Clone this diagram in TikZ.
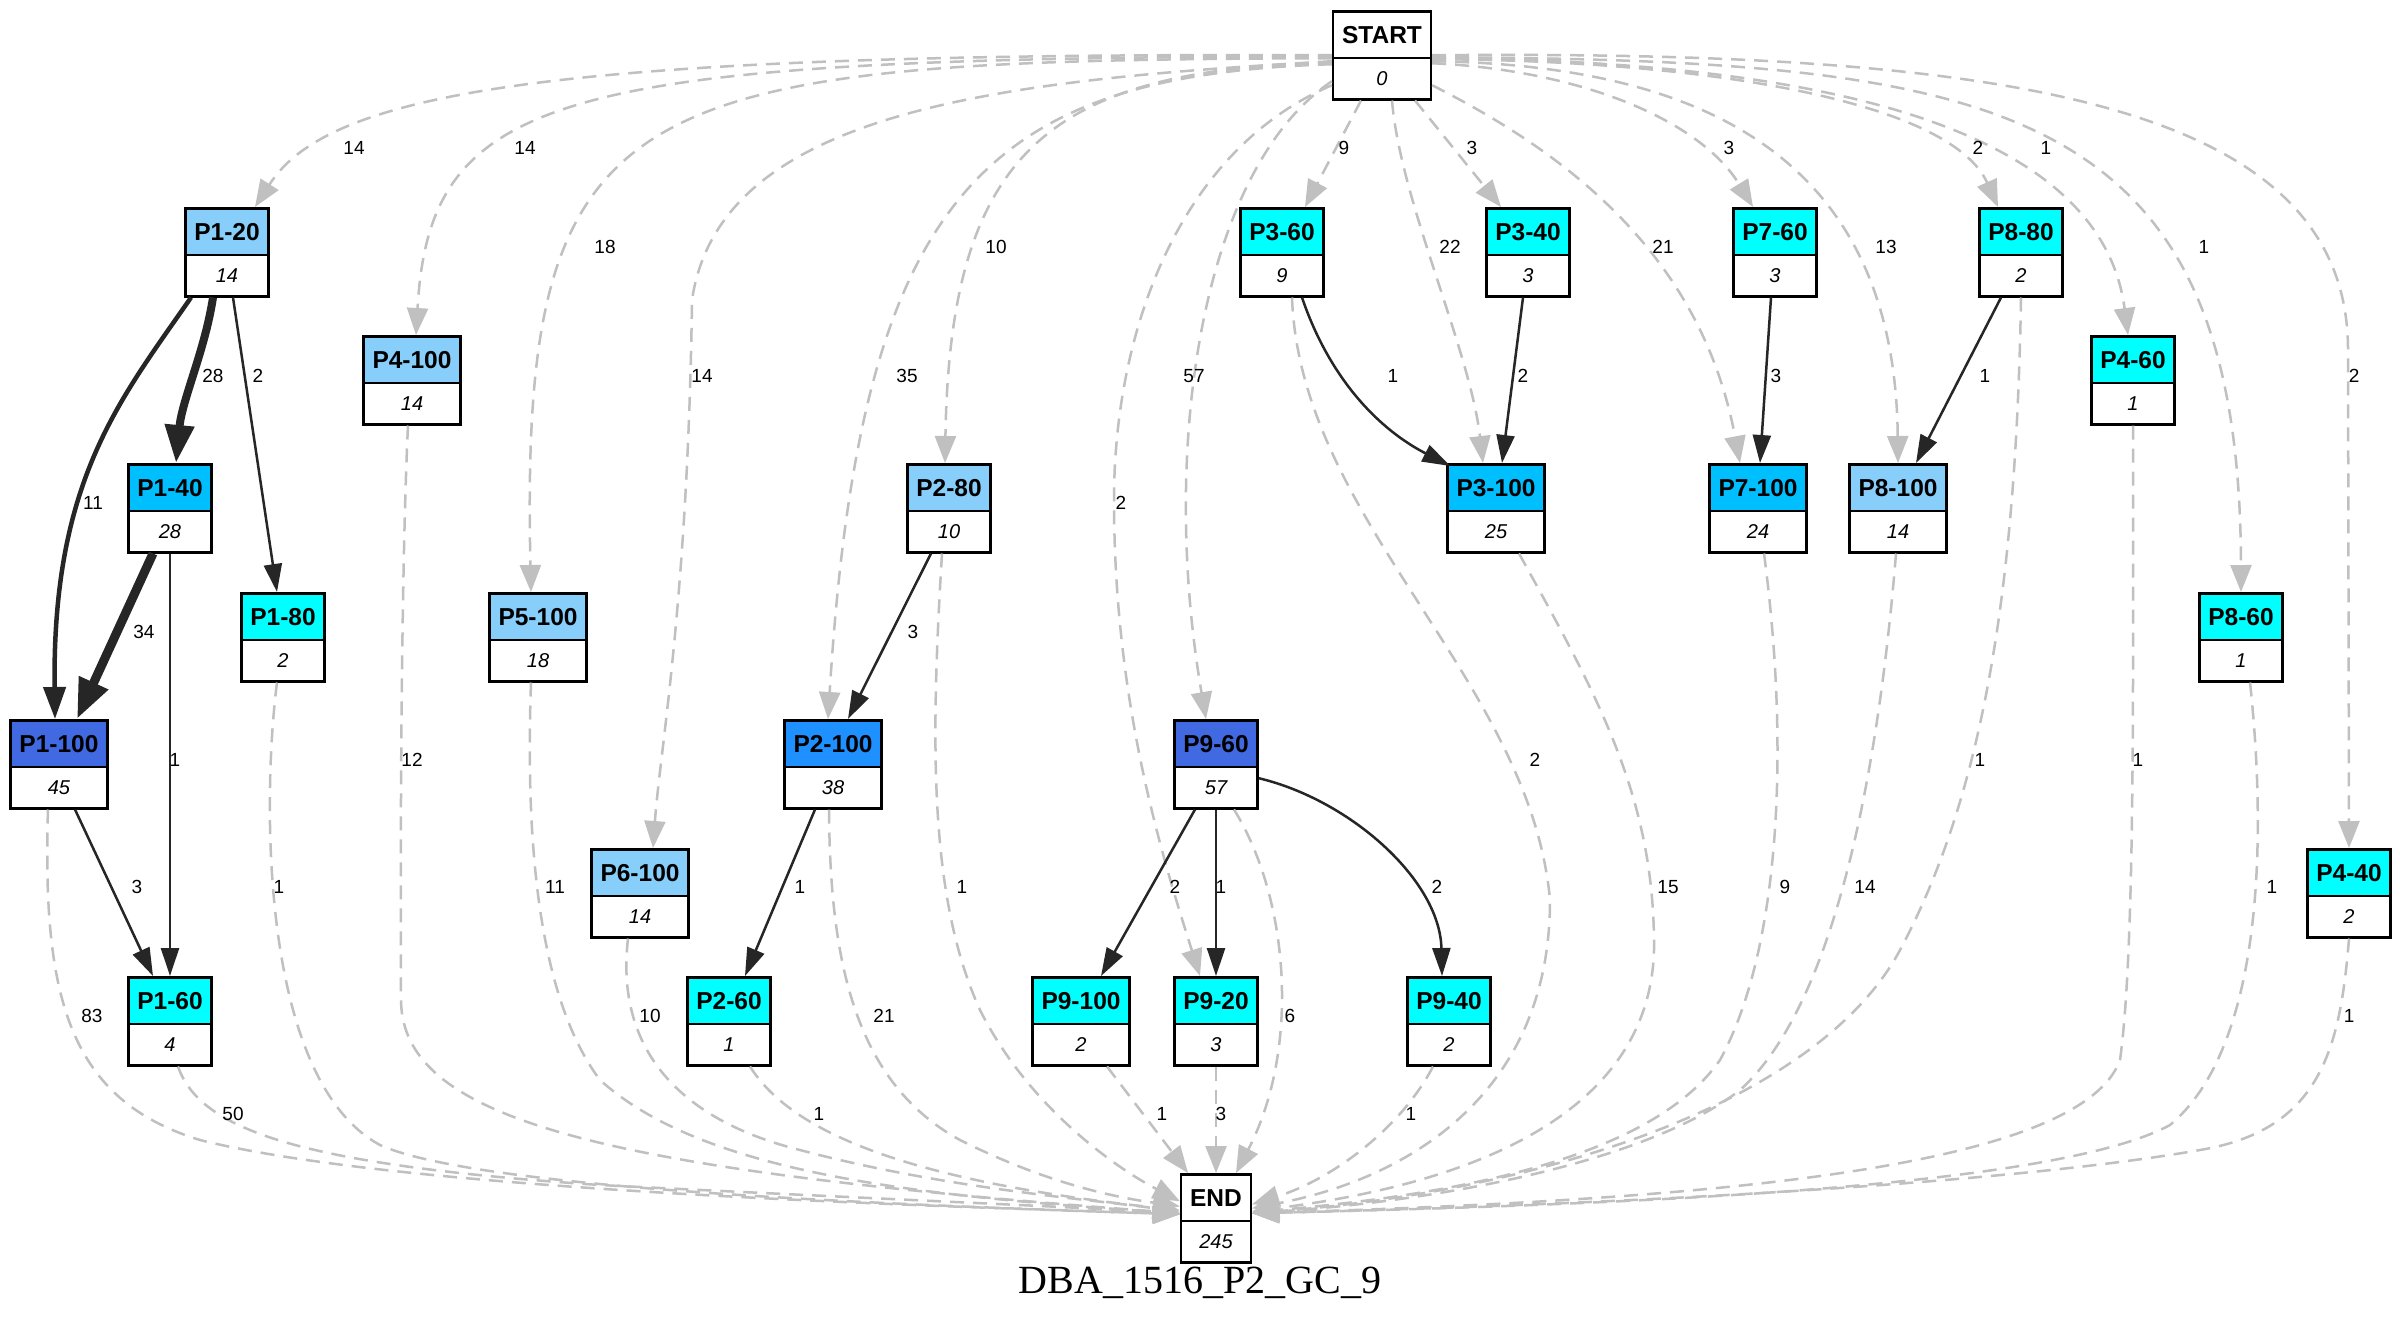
\documentclass[tikz,border=0pt]{standalone}
\usepackage{fontspec}
\setmainfont{Liberation Sans}
\newfontfamily\titlefont{Liberation Serif}
\usetikzlibrary{shapes.multipart,arrows.meta}
\definecolor{lsb}{HTML}{87CEFA}
\definecolor{dsb}{HTML}{00BFFF}
\definecolor{cyn}{HTML}{00FFFF}
\definecolor{rbl}{HTML}{4169E1}
\definecolor{dgb}{HTML}{1E90FF}
\definecolor{egray}{HTML}{C0C0C0}
\definecolor{eblack}{HTML}{262626}
\newcommand\hd[1]{{\fontsize{24.5}{24.5}\selectfont\bfseries\rule[-13pt]{0pt}{44pt}#1}}
\newcommand\ct[1]{{\fontsize{20}{20}\selectfont\itshape\rule[-12.5pt]{0pt}{39pt}#1}}
\begin{document}
\begin{tikzpicture}[x=1pt,y=-1pt,
  box/.style={rectangle split, rectangle split parts=2, rectangle split part fill={#1,white},
    draw=black, line width=2.5pt, inner xsep=9pt, inner ysep=0pt, anchor=north},
  gedge/.style={draw=egray, line width=2.5pt, dash pattern=on 14pt off 9pt,
    -{Triangle[length=27pt,width=21pt]}},
  bedge/.style={draw=eblack, line width=2.5pt, -{Triangle[length=28pt,width=18pt]}},
  thick11/.style={line width=4.5pt, -{Triangle[length=32pt,width=22pt]}},
  thick28/.style={line width=8pt, -{Triangle[length=38pt,width=28pt]}},
  thick34/.style={line width=9pt, -{Triangle[length=40pt,width=30pt]}},
  lbl/.style={font=\fontsize{19}{19}\selectfont, inner sep=0pt},
  ttl/.style={font=\titlefont\fontsize{40}{40}\selectfont, inner sep=0pt}]
\useasboundingbox (0,0) rectangle (2400,1325);
\fill[white] (0,0) rectangle (2400,1325);

% nodes
\node[box=white] (START) at (1382,10) {\hd{START}\nodepart{two}\ct{0}};
\node[box=lsb] (P1-20) at (227,207) {\hd{P1-20}\nodepart{two}\ct{14}};
\node[box=cyn] (P3-60) at (1282,207) {\hd{P3-60}\nodepart{two}\ct{9}};
\node[box=cyn] (P3-40) at (1528,207) {\hd{P3-40}\nodepart{two}\ct{3}};
\node[box=cyn] (P7-60) at (1775,207) {\hd{P7-60}\nodepart{two}\ct{3}};
\node[box=cyn] (P8-80) at (2021,207) {\hd{P8-80}\nodepart{two}\ct{2}};
\node[box=lsb] (P4-100) at (412,335) {\hd{P4-100}\nodepart{two}\ct{14}};
\node[box=cyn] (P4-60) at (2133,335) {\hd{P4-60}\nodepart{two}\ct{1}};
\node[box=dsb] (P1-40) at (170,463) {\hd{P1-40}\nodepart{two}\ct{28}};
\node[box=lsb] (P2-80) at (949,463) {\hd{P2-80}\nodepart{two}\ct{10}};
\node[box=dsb] (P3-100) at (1496,463) {\hd{P3-100}\nodepart{two}\ct{25}};
\node[box=dsb] (P7-100) at (1758,463) {\hd{P7-100}\nodepart{two}\ct{24}};
\node[box=lsb] (P8-100) at (1898,463) {\hd{P8-100}\nodepart{two}\ct{14}};
\node[box=cyn] (P1-80) at (283,592) {\hd{P1-80}\nodepart{two}\ct{2}};
\node[box=lsb] (P5-100) at (538,592) {\hd{P5-100}\nodepart{two}\ct{18}};
\node[box=cyn] (P8-60) at (2241,592) {\hd{P8-60}\nodepart{two}\ct{1}};
\node[box=rbl] (P1-100) at (59,719) {\hd{P1-100}\nodepart{two}\ct{45}};
\node[box=dgb] (P2-100) at (833,719) {\hd{P2-100}\nodepart{two}\ct{38}};
\node[box=rbl] (P9-60) at (1216,719) {\hd{P9-60}\nodepart{two}\ct{57}};
\node[box=lsb] (P6-100) at (640,848) {\hd{P6-100}\nodepart{two}\ct{14}};
\node[box=cyn] (P4-40) at (2349,848) {\hd{P4-40}\nodepart{two}\ct{2}};
\node[box=cyn] (P1-60) at (170,976) {\hd{P1-60}\nodepart{two}\ct{4}};
\node[box=cyn] (P2-60) at (729,976) {\hd{P2-60}\nodepart{two}\ct{1}};
\node[box=cyn] (P9-100) at (1081,976) {\hd{P9-100}\nodepart{two}\ct{2}};
\node[box=cyn] (P9-20) at (1216,976) {\hd{P9-20}\nodepart{two}\ct{3}};
\node[box=cyn] (P9-40) at (1449,976) {\hd{P9-40}\nodepart{two}\ct{2}};
\node[box=white] (END) at (1216,1173) {\hd{END}\nodepart{two}\ct{245}};

\node[ttl] (title) at (1200,1283) {DBA\_1516\_P2\_GC\_9};

% START edges (dashed)
\draw[gedge] (START.west) .. controls (560,52) and (330,90) .. ([xshift=28pt]P1-20.north);
\draw[gedge] ([yshift=-1pt]START.west) .. controls (560,58) and (430,90) .. ([xshift=4pt]P4-100.north);
\draw[gedge] ([yshift=-3pt]START.west) .. controls (620,60) and (520,90) .. ([xshift=-7pt]P5-100.north);
\draw[gedge] ([yshift=-6pt]START.west) .. controls (1000,80) and (720,110) .. (692,300) .. controls (688,600) and (660,750) .. ([xshift=13pt]P6-100.north);
\draw[gedge] ([yshift=-7pt]START.west) .. controls (1050,70) and (950,150) .. ([xshift=-4pt]P2-80.north);
\draw[gedge] ([yshift=-9pt]START.west) .. controls (980,75) and (860,200) .. ([xshift=-5pt]P2-100.north);
\draw[gedge] ([yshift=-26pt]START.west) .. controls (1200,170) and (1160,450) .. ([xshift=-10pt]P9-60.north);
\draw[gedge] ([yshift=-30pt]START.west) .. controls (1180,150) and (1114,330) .. (1114,500) .. controls (1114,700) and (1160,850) .. ([xshift=-16pt]P9-20.north);
\draw[gedge] ([xshift=-21pt]START.south) -- ([xshift=23pt]P3-60.north);
\draw[gedge] ([xshift=10pt]START.south) .. controls (1400,200) and (1470,350) .. ([xshift=-13pt]P3-100.north);
\draw[gedge] ([xshift=33pt]START.south) -- ([xshift=-27pt]P3-40.north);
\draw[gedge] ([yshift=-30pt]START.east) .. controls (1560,150) and (1700,250) .. ([xshift=-18pt]P7-100.north);
\draw[gedge] ([yshift=-8pt]START.east) .. controls (1580,70) and (1700,120) .. ([xshift=-22pt]P7-60.north);
\draw[gedge] ([yshift=-6pt]START.east) .. controls (1720,65) and (1895,170) .. (P8-100.north);
\draw[gedge] ([yshift=-4pt]START.east) .. controls (1700,60) and (1950,100) .. ([xshift=-23pt]P8-80.north);
\draw[gedge] ([yshift=-3pt]START.east) .. controls (1800,60) and (2100,120) .. ([xshift=-5pt]P4-60.north);
\draw[gedge] ([yshift=-2pt]START.east) .. controls (2000,60) and (2240,100) .. (P8-60.north);
\draw[gedge] (START.east) .. controls (2000,50) and (2348,100) .. (2348,350) -- (P4-40.north);

% solid edges
\draw[bedge,thick11] ([xshift=-36pt]P1-20.south) .. controls (120,400) and (52,480) .. ([xshift=-4pt]P1-100.north);
\draw[bedge,thick28] ([xshift=-14pt]P1-20.south) .. controls (205,350) and (182,400) .. ([xshift=6pt]P1-40.north);
\draw[bedge] ([xshift=6pt]P1-20.south) -- ([xshift=-6pt]P1-80.north);
\draw[bedge,thick34] ([xshift=-17pt]P1-40.south) -- ([xshift=18pt]P1-100.north);
\draw[bedge] (P1-40.south) -- (P1-60.north);
\draw[bedge] ([xshift=16pt]P1-100.south) -- ([xshift=-17pt]P1-60.north);
\draw[bedge] ([xshift=-18pt]P2-80.south) -- ([xshift=15pt]P2-100.north);
\draw[bedge] ([xshift=-18pt]P2-100.south) -- ([xshift=16pt]P2-60.north);
\draw[bedge] ([xshift=20pt]P3-60.south) .. controls (1330,380) and (1380,430) .. ([xshift=4pt,yshift=-3pt]P3-100.north west);
\draw[bedge] ([xshift=-5pt]P3-40.south) -- ([xshift=6pt]P3-100.north);
\draw[bedge] ([xshift=-4pt]P7-60.south) -- ([xshift=2pt]P7-100.north);
\draw[bedge] ([xshift=-20pt]P8-80.south) -- ([xshift=18pt]P8-100.north);
\draw[bedge] ([xshift=-21pt]P9-60.south) -- ([xshift=20pt]P9-100.north);
\draw[bedge] (P9-60.south) -- (P9-20.north);
\draw[bedge] ([yshift=-14pt]P9-60.east) .. controls (1350,800) and (1440,880) .. ([xshift=-7pt]P9-40.north);

% END edges (dashed)
\draw[gedge] ([xshift=-11pt]P1-100.south) .. controls (42,1000) and (70,1100) .. (200,1140) .. controls (400,1190) and (900,1205) .. ([yshift=4pt]END.west);
\draw[gedge] ([xshift=8pt]P1-60.south) .. controls (200,1130) and (300,1165) .. (600,1185) .. controls (900,1200) and (1100,1208) .. ([yshift=4pt]END.west);
\draw[gedge] ([xshift=-6pt]P1-80.south) .. controls (262,800) and (260,1080) .. (380,1145) .. controls (480,1190) and (900,1205) .. ([yshift=4pt]END.west);
\draw[gedge] ([xshift=-4pt]P4-100.south) .. controls (402,550) and (400,800) .. (401,1000) .. controls (402,1120) and (600,1170) .. ([yshift=5pt]END.west);
\draw[gedge] ([xshift=-7pt]P5-100.south) .. controls (525,850) and (540,1000) .. (600,1080) .. controls (700,1170) and (900,1195) .. ([yshift=5pt]END.west);
\draw[gedge] ([xshift=-12pt]P6-100.south) .. controls (615,1050) and (680,1120) .. (800,1150) .. controls (950,1190) and (1100,1200) .. ([yshift=6pt]END.west);
\draw[gedge] ([xshift=21pt]P2-60.south) .. controls (790,1130) and (900,1180) .. ([yshift=8pt]END.west);
\draw[gedge] ([xshift=-4pt]P2-100.south) .. controls (830,950) and (850,1080) .. (960,1140) .. controls (1050,1185) and (1120,1198) .. ([yshift=12pt]END.west);
\draw[gedge] ([xshift=-7pt]P2-80.south) .. controls (930,750) and (930,900) .. (980,1010) .. controls (1030,1110) and (1120,1170) .. ([yshift=17pt]END.west);
\draw[gedge] ([xshift=26pt]P9-100.south) -- ([xshift=-28pt]END.north);
\draw[gedge] (P9-20.south) -- (END.north);
\draw[gedge] ([xshift=18pt]P9-60.south) .. controls (1290,900) and (1300,1050) .. ([xshift=20pt]END.north);
\draw[gedge] ([xshift=-16pt]P9-40.south) .. controls (1400,1130) and (1330,1180) .. ([yshift=14pt]END.east);
\draw[gedge] ([xshift=10pt]P3-60.south) .. controls (1300,520) and (1530,680) .. (1550,900) .. controls (1550,1100) and (1400,1180) .. ([yshift=10pt]END.east);
\draw[gedge] ([xshift=23pt]P3-100.south) .. controls (1600,700) and (1655,800) .. (1654,950) .. controls (1650,1100) and (1500,1180) .. ([yshift=7pt]END.east);
\draw[gedge] ([xshift=6pt]P7-100.south) .. controls (1790,750) and (1780,950) .. (1720,1060) .. controls (1650,1160) and (1450,1195) .. ([yshift=6pt]END.east);
\draw[gedge] ([xshift=-2pt]P8-100.south) .. controls (1880,750) and (1840,1000) .. (1740,1090) .. controls (1650,1160) and (1450,1200) .. ([yshift=5pt]END.east);
\draw[gedge] (P8-80.south) .. controls (2016,600) and (1980,800) .. (1900,950) .. controls (1820,1100) and (1550,1190) .. ([yshift=5pt]END.east);
\draw[gedge] (P4-60.south) .. controls (2133,700) and (2135,950) .. (2120,1060) .. controls (2080,1170) and (1700,1200) .. ([yshift=5pt]END.east);
\draw[gedge] ([xshift=9pt]P8-60.south) .. controls (2268,850) and (2260,1050) .. (2170,1125) .. controls (2050,1190) and (1600,1205) .. ([yshift=5pt]END.east);
\draw[gedge] (P4-40.south) .. controls (2340,1050) and (2320,1130) .. (2200,1150) .. controls (2000,1185) and (1600,1205) .. ([yshift=5pt]END.east);

% labels: START edges
\node[lbl] (s1) at (354,148) {14};
\node[lbl] (s2) at (525,148) {14};
\node[lbl] (s3) at (605,247) {18};
\node[lbl] (s4) at (702,376) {14};
\node[lbl] (s5) at (996,247) {10};
\node[lbl] (s6) at (907,376) {35};
\node[lbl] (s7) at (1194,376) {57};
\node[lbl] (s8) at (1121,503) {2};
\node[lbl] (s9) at (1344,148) {9};
\node[lbl] (s10) at (1450,247) {22};
\node[lbl] (s11) at (1472,148) {3};
\node[lbl] (s12) at (1663,247) {21};
\node[lbl] (s13) at (1729,148) {3};
\node[lbl] (s14) at (1886,247) {13};
\node[lbl] (s15) at (1978,148) {2};
\node[lbl] (s16) at (2046,148) {1};
\node[lbl] (s17) at (2204,247) {1};
\node[lbl] (s18) at (2354,376) {2};
% labels: solid edges
\node[lbl] (b1) at (93,503) {11};
\node[lbl] (b2) at (213,376) {28};
\node[lbl] (b3) at (258,376) {2};
\node[lbl] (b4) at (144,632) {34};
\node[lbl] (b5) at (175,760) {1};
\node[lbl] (b6) at (137,887) {3};
\node[lbl] (b7) at (913,632) {3};
\node[lbl] (b8) at (800,887) {1};
\node[lbl] (b9) at (1393,376) {1};
\node[lbl] (b10) at (1523,376) {2};
\node[lbl] (b11) at (1776,376) {3};
\node[lbl] (b12) at (1985,376) {1};
\node[lbl] (b13) at (1175,887) {2};
\node[lbl] (b14) at (1221,887) {1};
\node[lbl] (b15) at (1437,887) {2};
% labels: END edges
\node[lbl] (e1) at (92,1016) {83};
\node[lbl] (e2) at (233,1114) {50};
\node[lbl] (e3) at (279,887) {1};
\node[lbl] (e4) at (412,760) {12};
\node[lbl] (e5) at (555,887) {11};
\node[lbl] (e6) at (650,1016) {10};
\node[lbl] (e7) at (819,1114) {1};
\node[lbl] (e8) at (884,1016) {21};
\node[lbl] (e9) at (962,887) {1};
\node[lbl] (e10) at (1162,1114) {1};
\node[lbl] (e11) at (1221,1114) {3};
\node[lbl] (e12) at (1290,1016) {6};
\node[lbl] (e13) at (1411,1114) {1};
\node[lbl] (e14) at (1535,760) {2};
\node[lbl] (e15) at (1668,887) {15};
\node[lbl] (e16) at (1785,887) {9};
\node[lbl] (e17) at (1865,887) {14};
\node[lbl] (e18) at (1980,760) {1};
\node[lbl] (e19) at (2138,760) {1};
\node[lbl] (e20) at (2272,887) {1};
\node[lbl] (e21) at (2349,1016) {1};
\end{tikzpicture}
\end{document}
